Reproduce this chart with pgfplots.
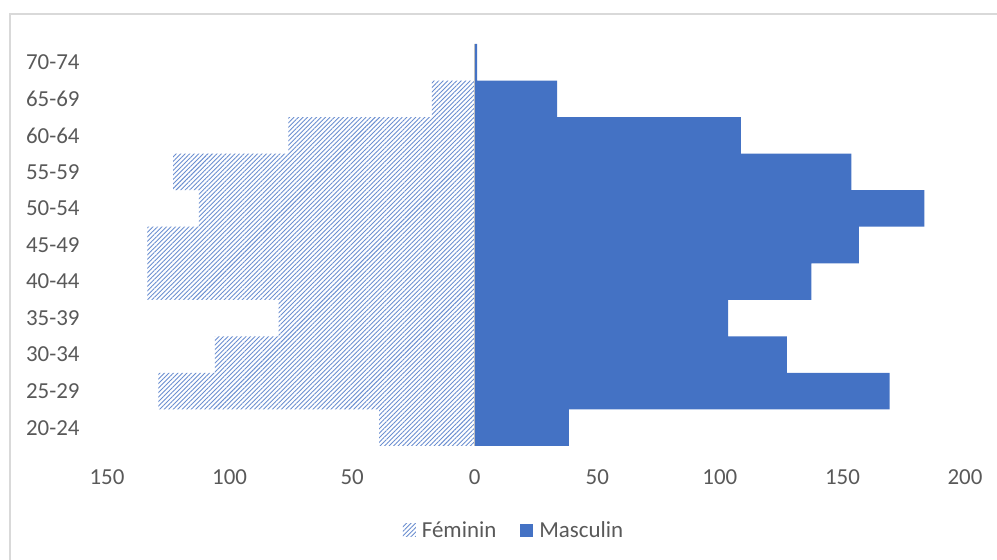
\documentclass[border=0pt]{standalone}
\usepackage{fontspec}
\setmainfont{Carlito}
\usepackage{pgfplots}
\usepackage{pgfplotstable}
\pgfplotsset{compat=1.18}
\usetikzlibrary{patterns.meta}

\definecolor{bleu}{HTML}{4472C4}
\definecolor{hachure}{HTML}{6A8ED0}
\definecolor{txt}{HTML}{595959}
\definecolor{cadre}{HTML}{D9D9D9}
\definecolor{axe}{HTML}{BFBFBF}

% classes d'age 20-24 ... 70-74 (n = 0..10), femmes en negatif
\pgfplotstableread{
n   fem    masc
0   -39    38.4
1   -129   169.3
2   -106   127.3
3   -80    103.4
4   -133.5 137.3
5   -133.5 156.7
6   -112.5 183.4
7   -123   153.6
8   -76    108.6
9   -17.5  33.6
10  0      1
}\pyramide

\begin{document}
\begin{tikzpicture}
\useasboundingbox (0,0) rectangle (997bp,560bp);
\draw[cadre, line width=1.5bp] (10bp,0) -- (10bp,546bp) -- (997bp,546bp);
\begin{axis}[
    at={(107bp,114bp)}, anchor=south west,
    scale only axis, width=858bp, height=402bp,
    xmin=-150, xmax=200, ymin=-0.5, ymax=10.5,
    xbar, bar width=1, bar shift=0pt,
    axis line style={draw=none}, tick style={draw=none},
    xtick={-150,-100,...,200},
    xticklabels={150,100,50,0,50,100,150,200},
    ytick={0,...,10},
    yticklabels={20-24,25-29,30-34,35-39,40-44,45-49,50-54,55-59,60-64,65-69,70-74},
    ticklabel style={font=\fontsize{23}{27}\selectfont, text=txt},
    xticklabel style={anchor=center, yshift=-31bp},
    yticklabel style={anchor=east, xshift=-19.7bp},
    legend style={at={(0.4744,-0.209)}, anchor=center, draw=none,
        font=\fontsize{23}{27}\selectfont, text=txt, legend columns=2,
        /tikz/every odd column/.append style={column sep=4bp},
        /tikz/every even column/.append style={column sep=22bp},
        inner sep=0pt},
]
\addplot[draw=none, pattern={Lines[angle=45, distance=3.2pt, line width=0.9pt]}, pattern color=hachure,
    legend image code/.code={\path[draw=none, pattern={Lines[angle=45, distance=3.2pt, line width=0.9pt]}, pattern color=hachure] (0bp,-6.5bp) rectangle (13bp,6.5bp);}]
    table[x=fem, y=n] {\pyramide};
\addlegendentry{Féminin}
\addplot[draw=none, fill=bleu,
    legend image code/.code={\fill[bleu] (0bp,-6.5bp) rectangle (13bp,6.5bp);}]
    table[x=masc, y=n] {\pyramide};
\addlegendentry{Masculin}
\draw[axe, line width=1.2bp] (axis cs:0,-0.5) -- (axis cs:0,10.5);
\end{axis}
\end{tikzpicture}
\end{document}
